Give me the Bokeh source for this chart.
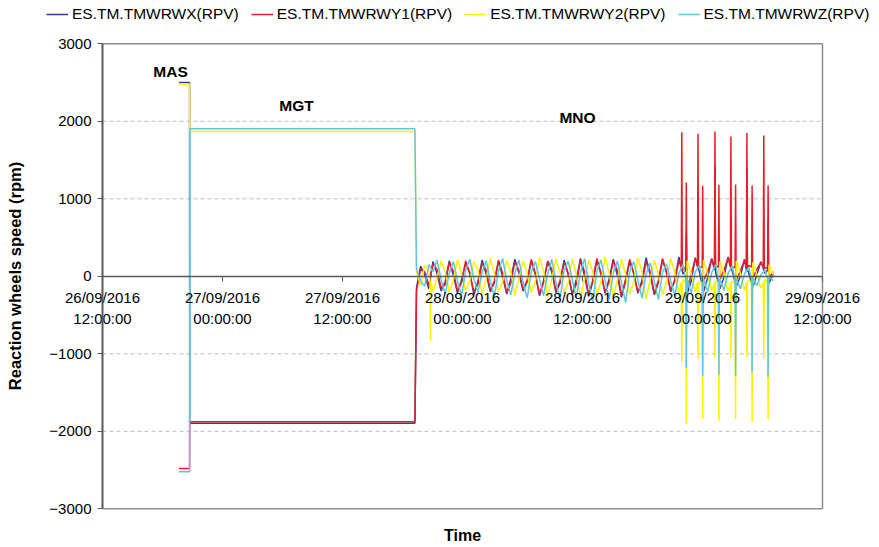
import pandas as pd
from bokeh.plotting import figure
from bokeh.models import (ColumnDataSource, FixedTicker, Label, Legend, LegendItem,
                          Range1d, DatetimeTickFormatter)
from bokeh.embed import file_html
from bokeh.resources import INLINE

# ---------------- data ----------------
T0 = pd.Timestamp("2016-09-26 12:00:00")
x_tick_hours = [0, 12, 24, 36, 48, 60, 72]
y_ticks = [-3000, -2000, -1000, 0, 1000, 2000, 3000]
y_tick_labels = ["\u22123000", "\u22122000", "\u22121000", "0", "1000", "2000", "3000"]
y_grid_values = [-2000, -1000, 1000, 2000]

series_names = ["ES.TM.TMWRWX(RPV)", "ES.TM.TMWRWY1(RPV)", "ES.TM.TMWRWY2(RPV)", "ES.TM.TMWRWZ(RPV)"]
series_colors = ["#2f3f9e", "#ed1c24", "#fff200", "#5ec8dd"]

# MAS and MGT phases (hours since 26/09/2016 12:00)
phase_hours = [7.64, 8.71, 8.72, 31.24]
x_phase = [2500, 2500, -1895, -1895]
y1_phase = [-2480, -2480, -1875, -1875]
y2_phase = [2480, 2480, 1870, 1870]
z_phase = [-2520, -2520, 1905, 1905]

# MNO phase: samples every 0.41 h from 31.4 h
osc_start_h = 31.4
osc_step_h = 0.41
x_osc = [-150, 130, 20, -160, 190, 40, -190, -70, 200, 10, -220, -40, 170, 50, -240, -60,
         210, 30, -200, -80, 190, 0, -230, -30, 220, 40, -190, -70, 200, 20, -250, -50,
         180, 60, -210, -90, 210, 20, -240, -40, 230, 0, -260, -70, 200, 50, -220, -30,
         220, 10, -270, -60, 190, 40, -220, -50, 240, 20, -240, -80, 210, 60, -200, -40,
         250, 30, -230, -60, 240, 60, -200, -20, 230, 40, -160, -10, 250, 70, -130, 0,
         220, 50, -140, 20, 190, 40, -90, 30]
y1_osc = [-180, 90, 60, -120, 160, 90, -150, -110, 180, 60, -190, -80, 200, 30, -200, -100,
          170, 80, -180, -60, 210, 40, -210, -90, 190, 70, -170, -50, 220, 30, -230, -80,
          200, 90, -190, -60, 180, 40, -220, -100, 210, 60, -240, -50, 230, 20, -200, -70,
          200, 70, -250, -40, 220, 30, -200, -90, 190, 60, -220, -50, 230, 40, -180, -60,
          200, 80, -160, 20, 230, 120, -60, 60, 220, 130, -40, 80, 240, 110, -50, 70,
          210, 140, -30, 90, 180, 100, -20, 60]
y2_osc = [60, -120, 140, 90, -190, -20, 200, 60, -210, -40, 220, 30, -180, -60, 190, 80,
          -230, -30, 230, 40, -200, -70, 210, 60, -250, -20, 200, 30, -210, -60, 240, 70,
          -260, -40, 220, 50, -220, -80, 230, 20, -280, -30, 210, 60, -240, -70, 250, 40,
          -270, -50, 220, 30, -230, -60, 240, 60, -290, -40, 210, 20, -240, -70, 230, 50,
          -220, -50, 200, 40, -200, -80, 210, 30, -190, -60, 190, 50, -200, -70, 200, 40,
          -180, -50, 180, 30, -150, -40, 150, 20]
z_osc = [100, -60, -130, 150, 60, 210, -40, -230, 40, 190, -60, -250, 80, 220, -30, -210,
         50, 200, -70, -260, 70, 230, -50, -240, 40, 210, -80, -280, 60, 190, -40, -250,
         30, 220, -70, -300, 80, 200, -50, -270, 50, 230, -90, -330, 70, 210, -60, -290,
         40, 200, -80, -340, 60, 190, -50, -280, 30, 170, -70, -300, 50, 160, -60, -250,
         40, 150, -40, -220, 60, 140, -30, -200, 50, 150, -40, -180, 40, 130, -30, -160,
         30, 120, -20, -120, 20, 80, 0, -60]

# short spikes (hours, peak values per series; None = no spike) and the level they rise from
spike_hours = [32.8, 57.93, 58.38, 59.55, 60.02, 61.25, 61.64, 62.84, 63.31, 64.44, 64.96, 66.13, 66.56]
x_spk = [None, None, 550, None, None, 1430, None, None, None, 1400, None, None, 700]
y1_spk = [None, 1860, 1210, 1840, 1170, 1870, 1180, 1805, 1185, 1848, 1172, 1818, 1172]
y2_spk = [-830, -1110, -1907, -1063, -1843, -1046, -1865, -1050, -1845, -1050, -1880, -1060, -1845]
z_spk = [None, None, -1175, None, -1283, None, -1270, None, -1283, None, -1240, None, -1300]
spike_base = [80, 120, -80, -40]
spike_half_width_h = 0.05

phase_labels = ["MAS", "MGT", "MNO"]
phase_label_hours = [6.8, 19.4, 47.5]
phase_label_values = [2640, 2200, 2045]


def build(phase_vals, osc_vals, spk_vals, base):
    pts = list(zip(phase_hours, phase_vals))
    pts += [(osc_start_h + i * osc_step_h, v) for i, v in enumerate(osc_vals)]
    for h, v in zip(spike_hours, spk_vals):
        if v is not None:
            pts += [(h - spike_half_width_h, base), (h, v), (h + spike_half_width_h, base)]
    pts.sort(key=lambda t: t[0])
    t = [T0 + pd.Timedelta(hours=h) for h, _ in pts]
    return ColumnDataSource(dict(t=t, v=[v for _, v in pts]))


sources = [build(x_phase, x_osc, x_spk, spike_base[0]), build(y1_phase, y1_osc, y1_spk, spike_base[1]),
           build(y2_phase, y2_osc, y2_spk, spike_base[2]), build(z_phase, z_osc, z_spk, spike_base[3])]

FONT = "Liberation Sans"
W, H = 879, 547
t_start = T0
t_end = T0 + pd.Timedelta(hours=72)
ms = lambda ts: ts.value / 1e6

# frame covers the whole canvas; the plotting box sits inside it (x: 102..822 px, y: 43..508 px)
p = figure(width=W, height=H, output_backend="svg", toolbar_location=None,
           x_axis_type="datetime",
           x_range=Range1d(T0 - pd.Timedelta(hours=10.2), T0 + pd.Timedelta(hours=77.7)),
           y_range=Range1d(-3499, 3559),
           min_border=0, min_border_left=0, min_border_right=0, min_border_top=0, min_border_bottom=0)
p.background_fill_color = "white"
p.border_fill_color = "white"
p.outline_line_color = None
p.xgrid.visible = False
p.ygrid.visible = False

# dashed gridlines and box
n = len(y_grid_values)
p.segment(x0=[t_start] * n, x1=[t_end] * n, y0=y_grid_values, y1=y_grid_values,
          line_color="#bdbdbd", line_width=1, line_dash="4 3")
p.segment(x0=[t_start, t_start, t_end], x1=[t_end, t_end, t_end],
          y0=[y_ticks[-1], y_ticks[0], y_ticks[0]], y1=[y_ticks[-1], y_ticks[0], y_ticks[-1]],
          line_color="#8c8c8c", line_width=1.5)

renderers = []
for src, c in zip(sources, series_colors):
    r = p.line("t", "v", source=src, line_color=c, line_width=1.5)
    renderers.append(r)

# x axis crossing at zero
xt = [int(ms(T0 + pd.Timedelta(hours=h))) for h in x_tick_hours]
p.xaxis.ticker = FixedTicker(ticks=xt)
fmt = "%d/%m/%Y\n%H:%M:%S"
p.xaxis.formatter = DatetimeTickFormatter(milliseconds=fmt, seconds=fmt, minsec=fmt, minutes=fmt,
                                          hourmin=fmt, hours=fmt, days=fmt, months=fmt, years=fmt)
p.xaxis.fixed_location = 0
p.xaxis.bounds = (ms(t_start), ms(t_end))
p.xaxis.axis_line_color = "#595959"
p.xaxis.axis_line_width = 1.5
p.xaxis.major_tick_line_color = "#595959"
p.xaxis.major_tick_out = 5
p.xaxis.major_tick_in = 0
p.xaxis.minor_tick_line_color = None
p.xaxis.major_label_text_font = FONT
p.xaxis.major_label_text_font_size = "15px"
p.xaxis.major_label_text_color = "black"
p.xaxis.major_label_standoff = 8

p.yaxis.ticker = FixedTicker(ticks=y_ticks)
p.yaxis.major_label_overrides = {t: l for t, l in zip(y_ticks, y_tick_labels)}
p.yaxis.fixed_location = ms(t_start)
p.yaxis.bounds = (y_ticks[0], y_ticks[-1])
p.yaxis.axis_line_color = "#595959"
p.yaxis.axis_line_width = 2
p.yaxis.major_tick_line_color = "#595959"
p.yaxis.major_tick_out = 5
p.yaxis.major_tick_in = 0
p.yaxis.minor_tick_line_color = None
p.yaxis.major_label_text_font = FONT
p.yaxis.major_label_text_font_size = "15px"
p.yaxis.major_label_text_color = "black"
p.yaxis.major_label_standoff = 6
p.yaxis.axis_label = "Reaction wheels speed (rpm)"
p.yaxis.axis_label_text_font = FONT
p.yaxis.axis_label_text_font_size = "16.5px"
p.yaxis.axis_label_text_font_style = "bold"
p.yaxis.axis_label_text_color = "black"
p.yaxis.axis_label_standoff = 22

for txt, h, v in zip(phase_labels, phase_label_hours, phase_label_values):
    p.add_layout(Label(x=T0 + pd.Timedelta(hours=h), y=v, text=txt, text_align="center",
                       text_baseline="middle", text_font=FONT, text_font_size="15.5px",
                       text_font_style="bold", text_color="black"))

p.add_layout(Label(x=T0 + pd.Timedelta(hours=36), y=12, y_units="screen", text="Time",
                   text_align="center", text_baseline="middle", text_font=FONT,
                   text_font_size="16px", text_font_style="bold", text_color="black"))

legend = Legend(items=[LegendItem(label=nm, renderers=[r]) for nm, r in zip(series_names, renderers)],
                orientation="horizontal", location=(46, 524),
                border_line_alpha=0, background_fill_alpha=0,
                label_text_font=FONT, label_text_font_size="15.5px", label_text_color="black",
                glyph_width=22, glyph_height=10, label_standoff=4, spacing=12,
                padding=0, margin=0, label_height=18)
p.add_layout(legend)

open("out.html", "w").write(file_html(p, INLINE))
